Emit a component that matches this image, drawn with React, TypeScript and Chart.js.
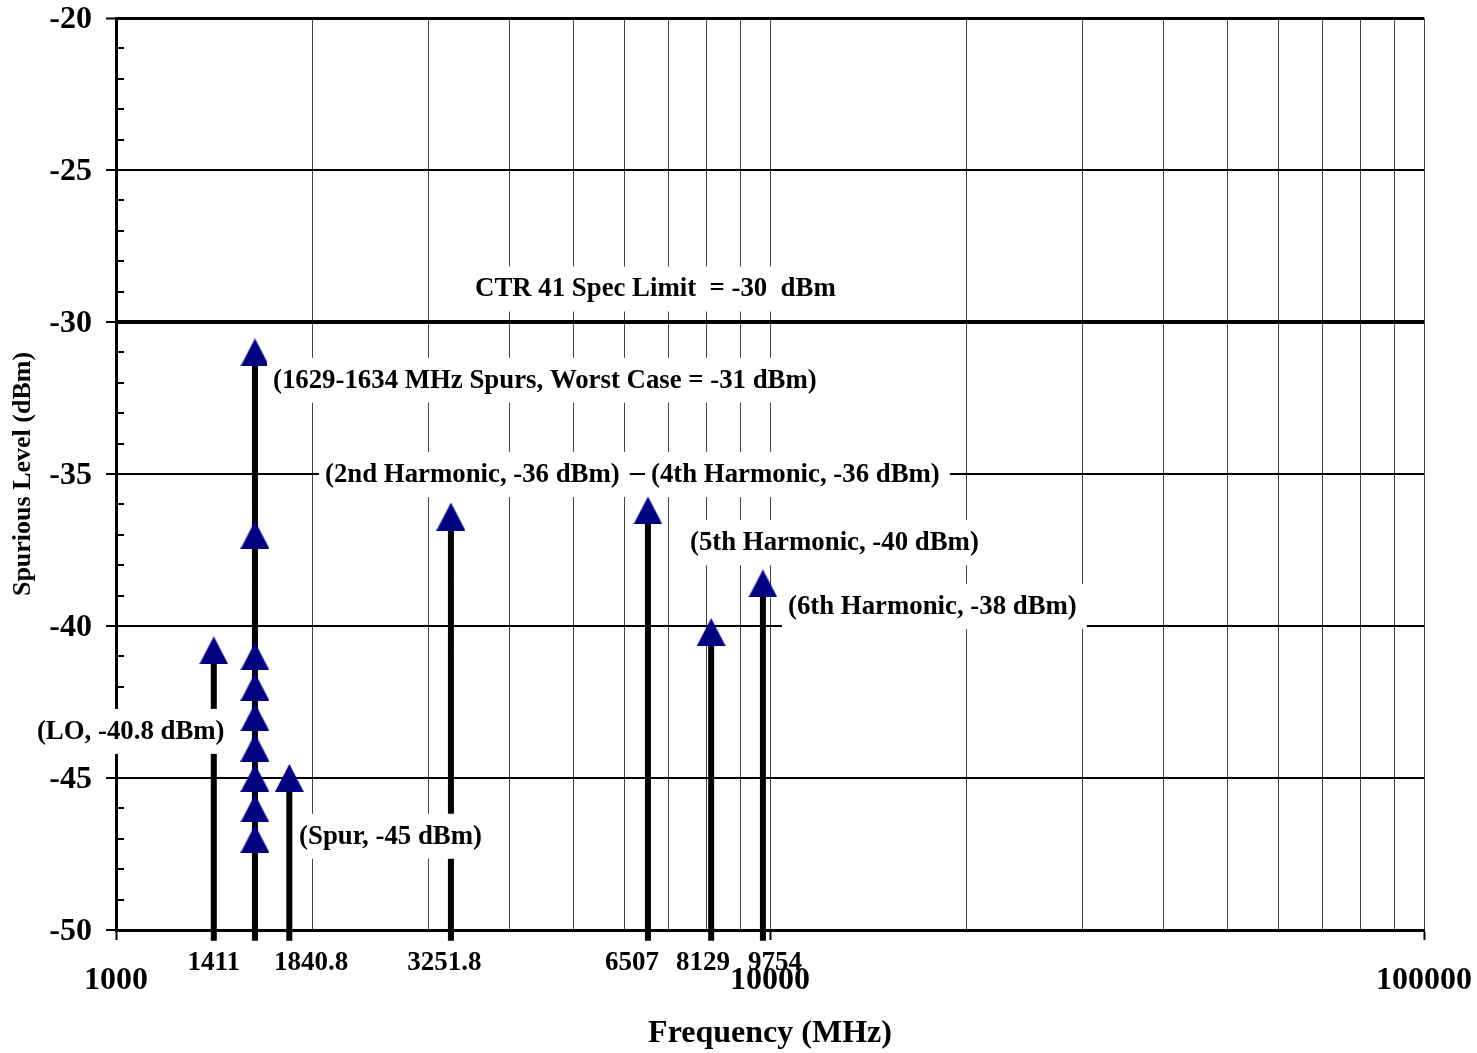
import React, { useEffect, useRef } from 'react';
import { Chart, registerables } from 'chart.js';

Chart.register(...registerables);

const FONT = '"Liberation Serif", "Times New Roman", serif';

// Axis ranges
const FREQ_MIN = 1000;
const FREQ_MAX = 100000;
const LEVEL_MIN = -50;
const LEVEL_MAX = -20;
const SPEC_LIMIT = -30;
const STEM_BASE = -50.35;

// Spur cluster (1629-1634 MHz)
const clusterFreq = 1631;
const clusterLevels = [-31, -37, -41, -42, -43, -44, -45, -46, -47];

// Single spurs / harmonics
const singleFreqs = [1411, 1840.8, 3251.8, 6507, 8129, 9754];
const singleLevels = [-40.8, -45, -36.4, -36.2, -40.2, -38.6];

// Tick labels (spur frequencies) and where their text sits on the frequency axis
const freqTickLabels = ['1411', '1840.8', '3251.8', '6507', '8129', '9754'];
const freqTickLabelAt = [1411, 1987, 3179, 6151, 7900, 10178];
const decadeTicks = [1000, 10000, 100000];
const levelTickStep = 5;

// Annotation texts anchored in data units (left edge freq, centre level)
const annotationTexts = [
  'CTR 41 Spec Limit  = -30  dBm',
  '(1629-1634 MHz Spurs, Worst Case = -31 dBm)',
  '(2nd Harmonic, -36 dBm)',
  '(4th Harmonic, -36 dBm)',
  '(5th Harmonic, -40 dBm)',
  '(6th Harmonic, -38 dBm)',
  '(LO, -40.8 dBm)',
  '(Spur, -45 dBm)',
];
const annotationFreqs = [3540, 1738, 2087, 6577, 7546, 10654, 757, 1905];
const annotationLevels = [-28.9, -31.9, -35, -35, -37.24, -39.34, -43.45, -46.9];

function makeTriangle(): HTMLCanvasElement {
  const c = document.createElement('canvas');
  c.width = 29;
  c.height = 28;
  const g = c.getContext('2d')!;
  g.fillStyle = '#000080';
  g.beginPath();
  g.moveTo(14.5, 0);
  g.lineTo(29, 28);
  g.lineTo(0, 28);
  g.closePath();
  g.fill();
  return c;
}

function zeroPadding(s: any) {
  s.paddingTop = 0;
  s.paddingBottom = 0;
  s.paddingLeft = 0;
  s.paddingRight = 0;
}

export default function App() {
  const ref = useRef<HTMLCanvasElement | null>(null);

  useEffect(() => {
    if (!ref.current) return;
    const tri = makeTriangle();

    const gridFreqs: number[] = [];
    for (let dec = FREQ_MIN; dec < FREQ_MAX; dec *= 10) {
      for (let k = 1; k < 10; k++) gridFreqs.push(dec * k);
    }
    gridFreqs.push(FREQ_MAX);

    const levelTicks: number[] = [];
    for (let v = LEVEL_MIN; v <= LEVEL_MAX; v++) levelTicks.push(v);

    const stemFreqs = [...singleFreqs, clusterFreq];
    const stemTops = [...singleLevels, Math.max(...clusterLevels)];
    const stemData: any[] = [];
    stemFreqs.forEach((f, i) => {
      stemData.push({ x: f, y: STEM_BASE });
      stemData.push({ x: f, y: stemTops[i] });
      stemData.push({ x: f, y: null });
    });

    const markerData = [
      ...singleFreqs.map((f, i) => ({ x: f, y: singleLevels[i] })),
      ...clusterLevels.map((l) => ({ x: clusterFreq, y: l })),
    ];

    const overlay = {
      id: 'overlay',
      afterDatasetsDraw(chart: any) {
        const { ctx, scales } = chart;
        const x = scales.x;
        const y = scales.y;
        const area = chart.chartArea;
        ctx.save();
        // minor inside ticks on the level axis
        ctx.strokeStyle = '#000';
        ctx.lineWidth = 2;
        for (const v of levelTicks) {
          if (v % levelTickStep === 0) continue;
          const py = Math.round(y.getPixelForValue(v));
          ctx.beginPath();
          ctx.moveTo(area.left, py);
          ctx.lineTo(area.left + 8, py);
          ctx.stroke();
        }
        // annotation labels with white boxes
        ctx.font = `bold 26.8px ${FONT}`;
        ctx.textBaseline = 'middle';
        ctx.textAlign = 'left';
        annotationTexts.forEach((t, i) => {
          const px = x.getPixelForValue(annotationFreqs[i]);
          const py = y.getPixelForValue(annotationLevels[i]);
          const w = ctx.measureText(t).width;
          ctx.fillStyle = '#fff';
          ctx.fillRect(px - 6, py - 22, w + 16, 45);
          ctx.fillStyle = '#000';
          ctx.fillText(t, px, py + 1);
        });
        // frequency labels of the spurs
        ctx.font = `bold 27px ${FONT}`;
        ctx.textAlign = 'center';
        ctx.fillStyle = '#000';
        freqTickLabelAt.forEach((f, i) => {
          ctx.fillText(freqTickLabels[i], x.getPixelForValue(f), area.bottom + 33);
        });
        ctx.restore();
      },
    };

    const chart = new Chart(ref.current, {
      type: 'line',
      data: {
        datasets: [
          {
            data: markerData,
            showLine: false,
            pointStyle: tri as any,
            pointRadius: 14,
            order: 0,
            clip: false as any,
          },
          {
            data: stemData,
            borderColor: '#000',
            borderWidth: 6,
            borderCapStyle: 'butt',
            pointRadius: 0,
            spanGaps: false,
            order: 1,
            clip: false as any,
          },
          {
            data: [
              { x: FREQ_MIN, y: SPEC_LIMIT },
              { x: FREQ_MAX, y: SPEC_LIMIT },
            ],
            borderColor: '#000',
            borderWidth: 4,
            pointRadius: 0,
            order: 2,
          },
        ] as any,
      },
      options: {
        animation: false,
        responsive: false,
        layout: { padding: { top: 18, right: 53, left: 0, bottom: 0 } },
        plugins: {
          legend: { display: false },
          tooltip: { enabled: false },
        },
        scales: {
          x: {
            type: 'logarithmic',
            min: FREQ_MIN,
            max: FREQ_MAX,
            afterBuildTicks: (s: any) => {
              s.ticks = gridFreqs.map((v) => ({ value: v }));
            },
            afterFit: (s: any) => {
              s.height = 123;
              zeroPadding(s);
            },
            border: { display: true, color: '#000', width: 3 },
            grid: {
              color: '#444',
              lineWidth: 1,
              drawTicks: true,
              tickLength: 10,
              tickWidth: 2,
              tickColor: (c: any) =>
                c.tick && decadeTicks.includes(c.tick.value) ? '#000' : 'rgba(0,0,0,0)',
            },
            ticks: {
              autoSkip: false,
              maxRotation: 0,
              color: '#000',
              padding: 22,
              font: { family: FONT, size: 32, weight: 'bold' },
              callback: (v: any) => (decadeTicks.includes(Number(v)) ? String(v) : ''),
            },
            title: {
              display: true,
              text: 'Frequency (MHz)',
              color: '#000',
              font: { family: FONT, size: 32, weight: 'bold' },
              padding: { top: 0, bottom: 0 },
            },
          },
          y: {
            type: 'linear',
            min: LEVEL_MIN,
            max: LEVEL_MAX,
            afterBuildTicks: (s: any) => {
              s.ticks = levelTicks.map((v) => ({ value: v }));
            },
            afterFit: (s: any) => {
              s.width = 116;
              zeroPadding(s);
            },
            border: { display: true, color: '#000', width: 3 },
            grid: {
              color: (c: any) =>
                c.tick && c.tick.value % levelTickStep === 0 ? '#000' : 'rgba(0,0,0,0)',
              lineWidth: (c: any) => (c.tick && c.tick.value === LEVEL_MAX ? 3 : 2),
              drawTicks: true,
              tickLength: 10,
              tickWidth: 2,
              tickColor: (c: any) =>
                c.tick && c.tick.value % levelTickStep === 0 ? '#000' : 'rgba(0,0,0,0)',
            },
            ticks: {
              autoSkip: false,
              color: '#000',
              padding: 14,
              labelOffset: 2,
              font: { family: FONT, size: 32, weight: 'bold' },
              callback: (v: any) => (Number(v) % levelTickStep === 0 ? String(v) : ''),
            },
            title: {
              display: true,
              text: 'Spurious Level (dBm)',
              color: '#000',
              font: { family: FONT, size: 26, weight: 'bold' },
              padding: { top: 8, bottom: 0 },
            },
          },
        },
      } as any,
      plugins: [overlay],
    });

    return () => chart.destroy();
  }, []);

  return (
    <div style={{ position: 'absolute', left: 0, top: 0, width: 1477, height: 1053, background: '#fff' }}>
      <canvas ref={ref} width={1477} height={1053} style={{ display: 'block' }} />
    </div>
  );
}
